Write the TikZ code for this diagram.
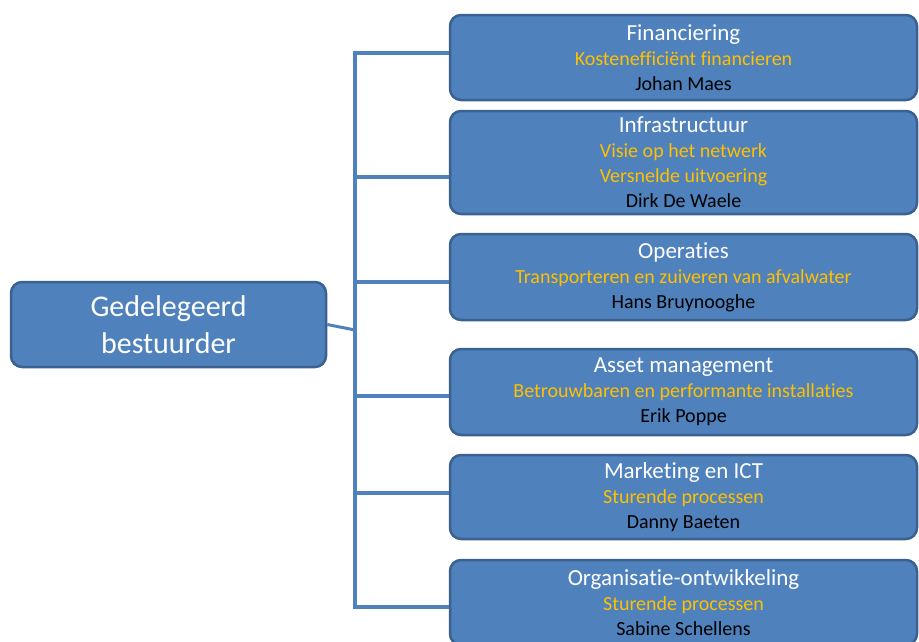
\documentclass[tikz,border=0pt]{standalone}
\usepackage{fontspec}
\setmainfont{Carlito}[Ligatures=NoCommon, Contextuals=NoAlternate]
\usetikzlibrary{positioning}
\definecolor{boxblue}{HTML}{4F81BD}
\definecolor{boxedge}{HTML}{3A6190}
\definecolor{taskgold}{HTML}{FFC000}
\newcommand{\unittitle}[1]{{\fontsize{23}{25}\selectfont\color{white}#1}}
\newcommand{\unittask}[1]{\textcolor{taskgold}{#1}}

\begin{document}
\begin{tikzpicture}[x=1pt, y=-1pt,
        unit/.style={draw=boxedge, fill=boxblue, line width=2.5pt, rounded corners=11pt,
                     inner sep=0pt, align=center, minimum width=467pt,
                     font=\fontsize{20}{25}\selectfont},
        link/.style={draw=boxblue, line width=4pt}]
    \useasboundingbox (0,0) rectangle (919,641);

    % head of the organisation
    \node[unit, minimum width=315pt, minimum height=85pt,
          font=\fontsize{30}{37}\selectfont, text=white] (gb) at (168.5,324.5) {Gedelegeerd\\bestuurder};

    % departments
    \node[unit, minimum height=85pt]  (d_1) at (683.5,57.5)  {\unittitle{Financiering}\\\unittask{Kostenefficiënt financieren}\\Johan Maes};
    \node[unit, minimum height=103pt] (d_2) at (683.5,162.5) {\unittitle{Infrastructuur}\\\unittask{Visie op het netwerk}\\\unittask{Versnelde uitvoering}\\Dirk De Waele};
    \node[unit, minimum height=86pt]  (d_3) at (683.5,277)   {\unittitle{Operaties}\\\unittask{Transporteren en zuiveren van afvalwater}\\Hans Bruynooghe};
    \node[unit, minimum height=86pt]  (d_4) at (683.5,392)   {\unittitle{Asset management}\\\unittask{Betrouwbaren en performante installaties}\\Erik Poppe};
    \node[unit, minimum height=84pt]  (d_5) at (683.5,497)   {\unittitle{Marketing en ICT}\\\unittask{Sturende processen}\\Danny Baeten};
    \node[unit, minimum height=85pt]  (d_6) at (683.5,602.5) {\unittitle{Organisatie-ontwikkeling}\\\unittask{Sturende processen}\\Sabine Schellens};

    % points on the trunk
    \coordinate (t_1) at (355,53);
    \coordinate (t_2) at (355,177);
    \coordinate (t_3) at (355,282);
    \coordinate (t_4) at (355,396);
    \coordinate (t_5) at (355,493);
    \coordinate (t_6) at (355,607);
    \coordinate (j)   at (355,330);

    % connectors
    \path[link] (t_1 -| d_1.west) -- (t_1) -- (t_6) -- (t_6 -| d_6.west);
    \path[link] (t_2) -- (t_2 -| d_2.west);
    \path[link] (t_3) -- (t_3 -| d_3.west);
    \path[link] (t_4) -- (t_4 -| d_4.west);
    \path[link] (t_5) -- (t_5 -| d_5.west);
    \path[link, line width=3pt] (gb.east) -- (j);
\end{tikzpicture}
\end{document}
